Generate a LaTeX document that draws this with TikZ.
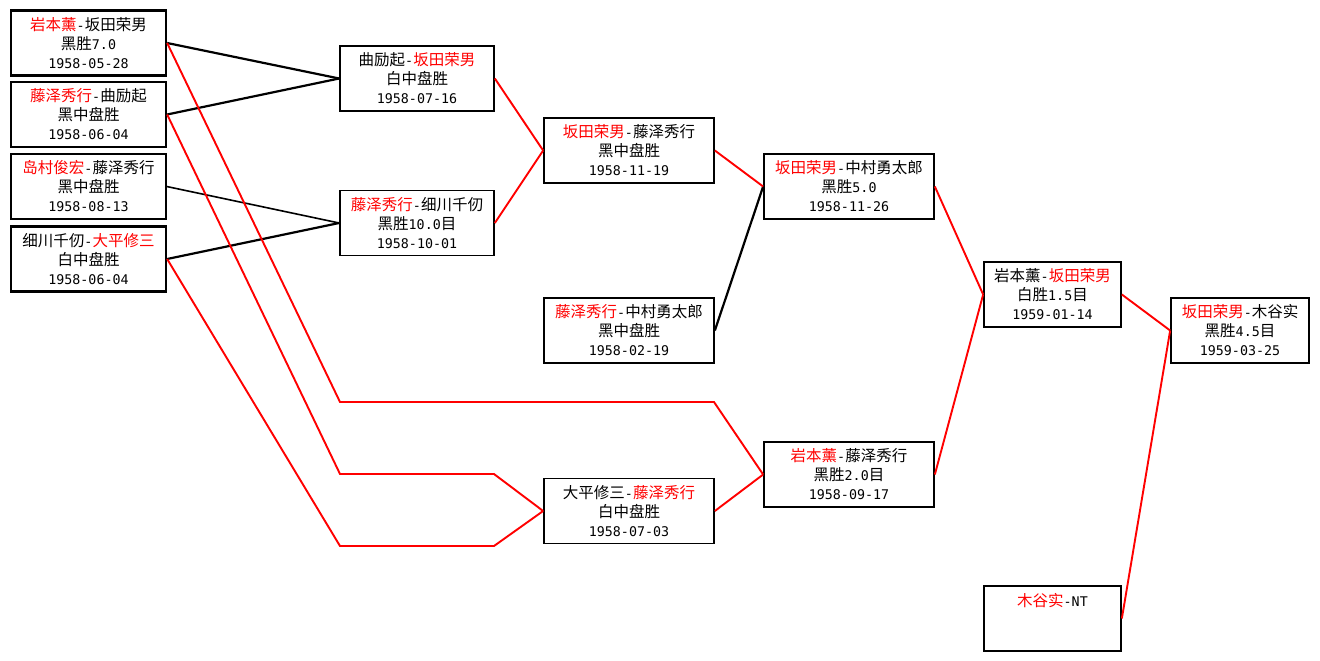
\documentclass[tikz,border=0pt]{standalone}
\usepackage{fontspec}
\setmainfont{Noto Sans CJK SC}
\newfontfamily\latf[Scale=0.86]{DejaVu Sans Mono}
\newcommand\lat[1]{{\latf #1}}
\newcommand\rd[1]{\textcolor{red}{#1}}
\begin{document}
\begin{tikzpicture}[x=1pt,y=-1pt,
  box/.style={draw, line width=1.7pt, align=center, inner sep=0pt,
    minimum height=65pt, font=\fontsize{15.5}{19}\selectfont},
  thickbox/.style={box, line width=2.3pt},
  thinbox/.style={box, line width=1.4pt},
  wA/.style={minimum width=155pt},
  wB/.style={minimum width=154pt},
  wC/.style={minimum width=170pt},
  wD/.style={minimum width=137pt},
  blk/.style={draw=black, line width=2.2pt},
  blkthin/.style={draw=black, line width=1.6pt},
  rdl/.style={draw=red, line width=1.9pt, line join=miter}]
\useasboundingbox (0,0) rectangle (1320,661);
\fill[white] (0,0) rectangle (1320,661);

% column 1
\node[thickbox,wA] (A) at (88.5,43) {\rd{岩本薰}\lat{-}坂田荣男\\黑胜\lat{7.0}\\\lat{1958-05-28}};
\node[thickbox,wA] (B) at (88.5,114.5) {\rd{藤泽秀行}\lat{-}曲励起\\黑中盘胜\\\lat{1958-06-04}};
\node[thinbox,wA] (C) at (88.5,186.5) {\rd{岛村俊宏}\lat{-}藤泽秀行\\黑中盘胜\\\lat{1958-08-13}};
\node[thickbox,wA] (D) at (88.5,259) {细川千仞\lat{-}\rd{大平修三}\\白中盘胜\\\lat{1958-06-04}};
% column 2
\node[box,wB] (E) at (417,78.5) {曲励起\lat{-}\rd{坂田荣男}\\白中盘胜\\\lat{1958-07-16}};
\node[box,wB] (F) at (417,223) {\rd{藤泽秀行}\lat{-}细川千仞\\黑胜\lat{10.0}目\\\lat{1958-10-01}};
% column 3
\node[box,wC] (G) at (629,150.5) {\rd{坂田荣男}\lat{-}藤泽秀行\\黑中盘胜\\\lat{1958-11-19}};
\node[box,wC] (H) at (629,330.5) {\rd{藤泽秀行}\lat{-}中村勇太郎\\黑中盘胜\\\lat{1958-02-19}};
\node[box,wC] (I) at (629,511) {大平修三\lat{-}\rd{藤泽秀行}\\白中盘胜\\\lat{1958-07-03}};
% column 4
\node[box,wC] (J) at (849,186.5) {\rd{坂田荣男}\lat{-}中村勇太郎\\黑胜\lat{5.0}\\\lat{1958-11-26}};
\node[box,wC] (K) at (849,474.5) {\rd{岩本薰}\lat{-}藤泽秀行\\黑胜\lat{2.0}目\\\lat{1958-09-17}};
% column 5
\node[box,wD] (L) at (1052.5,294.5) {岩本薰\lat{-}\rd{坂田荣男}\\白胜\lat{1.5}目\\\lat{1959-01-14}};
\node[box,wD] (M) at (1052.5,618.5) {\rd{木谷实}\lat{-NT}\\~\\~};
% column 6
\node[box,minimum width=138pt] (N) at (1240,330.5) {\rd{坂田荣男}\lat{-}木谷实\\黑胜\lat{4.5}目\\\lat{1959-03-25}};

% bend points of the long red routes
\coordinate (a1) at (340,402);
\coordinate (a2) at (714,402);
\coordinate (b1) at (340,474);
\coordinate (b2) at (494,474);
\coordinate (d1) at (340,546);
\coordinate (d2) at (494,546);

% black connectors
\draw[blk] (A.east) -- (E.west);
\draw[blk] (B.east) -- (E.west);
\draw[blkthin] (C.east) -- (F.west);
\draw[blk] (D.east) -- (F.west);
\draw[blk] (H.east) -- (J.west);

% red connectors
\draw[rdl] (E.east) -- (G.west);
\draw[rdl] (F.east) -- (G.west);
\draw[rdl] (G.east) -- (J.west);
\draw[rdl] (J.east) -- (L.west);
\draw[rdl] (K.east) -- (L.west);
\draw[rdl] (L.east) -- (N.west);
\draw[rdl] (M.east) -- (N.west);
\draw[rdl] (I.east) -- (K.west);
\draw[rdl] (A.east) -- (a1) -- (a2) -- (K.west);
\draw[rdl] (B.east) -- (b1) -- (b2) -- (I.west);
\draw[rdl] (D.east) -- (d1) -- (d2) -- (I.west);
\end{tikzpicture}
\end{document}
